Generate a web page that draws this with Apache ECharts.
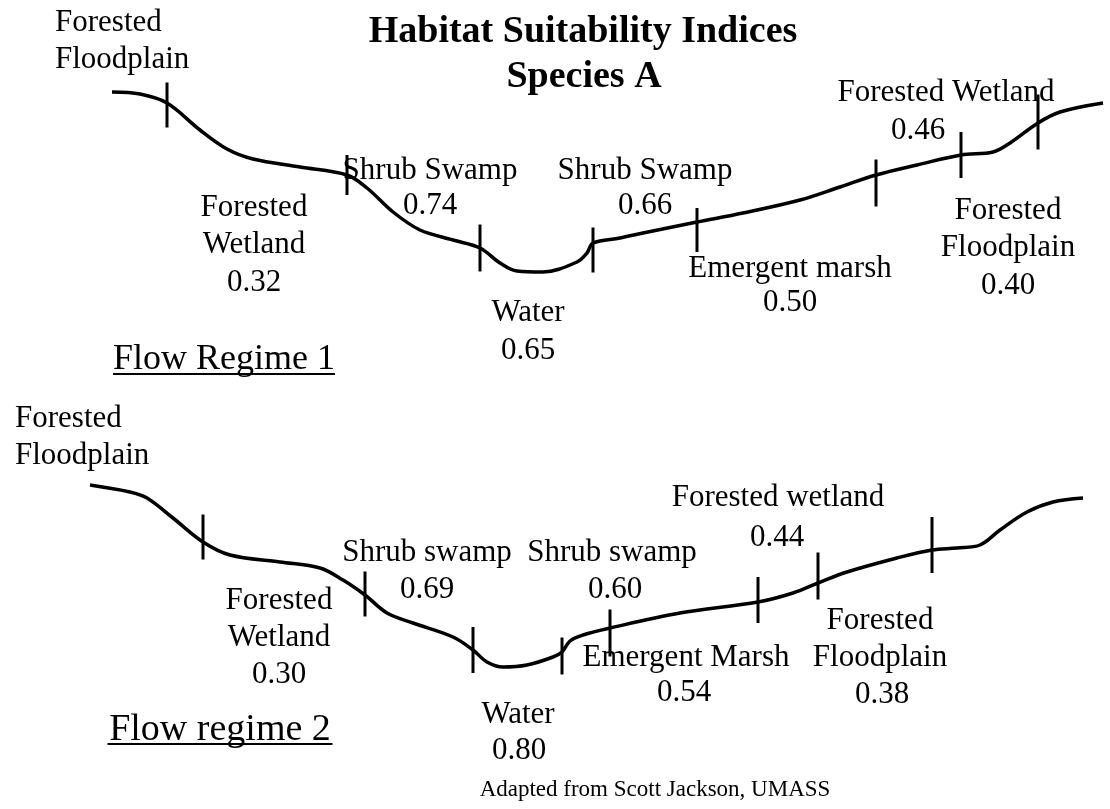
<!DOCTYPE html>
<html>
<head>
<meta charset="utf-8">
<script src="https://cdn.jsdelivr.net/npm/echarts@6/dist/echarts.min.js"></script>
<style>
html,body{margin:0;padding:0;background:#fff;}
#chart{width:1110px;height:809px;}
</style>
</head>
<body>
<div id="chart"></div>
<script>
// ---------- DATA ----------
const titleLines = ['Habitat Suitability Indices', 'Species A'];
const regimeNames = ['Flow Regime 1', 'Flow regime 2'];
const sourceNote = 'Adapted from Scott Jackson, UMASS';

// Flow regime 1: habitat zones (left to right) and their suitability indices
const habitats1 = ['Forested\nFloodplain', 'Forested\nWetland', 'Shrub Swamp', 'Water', 'Shrub Swamp', 'Emergent marsh', 'Forested Wetland', 'Forested\nFloodplain'];
const hsi1 = [null, 0.32, 0.74, 0.65, 0.66, 0.50, 0.46, 0.40];
// cross-section profile (x, depth) of regime 1
const profile1 = [[112,92],[140,94],[167,103],[200,130],[227,149],[253,159],[300,167],[347,175],[367,188],[393,212],[420,230],[453,240],[480,248],[500,263],[517,271],[543,272],[577,262],[587,253],[593,243],[620,238],[643,233],[697,222],[743,213],[800,200],[840,187],[876,175],[917,165],[961,155],[993,152],[1010,143],[1038,123],[1060,112],[1103,103]];
// zone boundaries (x, depth at boundary)
const bounds1 = [[167,105],[347,175],[480,248],[593,250],[697,230],[876,183],[961,155],[1038,122]];

// Flow regime 2
const habitats2 = ['Forested\nFloodplain', 'Forested\nWetland', 'Shrub swamp', 'Water', 'Shrub swamp', 'Emergent Marsh', 'Forested wetland', 'Forested\nFloodplain'];
const hsi2 = [null, 0.30, 0.69, 0.80, 0.60, 0.54, 0.44, 0.38];
const profile2 = [[90,485],[130,492],[147,498],[173,518],[203,542],[230,555],[280,562],[320,568],[343,580],[365,595],[387,613],[413,623],[453,637],[473,650],[487,662],[503,667],[527,665],[553,657],[562,652],[570,641],[583,635],[610,628],[680,613],[758,602],[793,593],[818,583],[847,572],[897,558],[932,550],[957,548],[980,545],[1000,530],[1027,512],[1053,502],[1083,498]];
const bounds2 = [[203,537],[365,594],[473,650],[562,656],[610,633],[758,600],[818,576],[932,545]];

// ---------- LAYOUT (positions / sizes) ----------
const boundLen1 = [45,40,47,45,44,47,46,55];
const boundLen2 = [45,45,46,37,47,46,47,56];
const namePos1 = [[55,38,'left'],[254,223],[430,168],[528,310],[645,168],[790,266],[946,90],[1008,226]];
const valPos1  = [null,[254,280],[430,203],[528,348],[645,203],[790,300],[918,128],[1008,283]];
const namePos2 = [[15,434,'left'],[279,616],[427,550],[518,712],[612,550],[686,655],[778,495],[880,636]];
const valPos2  = [null,[279,672],[427,587],[519,748],[615,587],[684,690],[777,535],[882,692]];
const titlePos = [[583,29],[584,74]];
const regimePos = [[224,357,222,36],[220,727,225,38]];
const notePos = [655,787];

const SERIF = '"Liberation Serif","Times New Roman",serif';

function textPoints(names, vals, npos, vpos) {
  const out = [];
  names.forEach((n, i) => {
    const p = npos[i];
    out.push({value: [p[0], p[1]], label: {formatter: n, align: p[2] || 'center'}});
    if (vals[i] != null && vpos[i]) {
      const q = vpos[i];
      out.push({value: [q[0], q[1]], label: {formatter: vals[i].toFixed(2), align: 'center'}});
    }
  });
  return out;
}

const labelData = textPoints(habitats1, hsi1, namePos1, valPos1)
  .concat(textPoints(habitats2, hsi2, namePos2, valPos2));

const titleData = titleLines.map((t, i) => ({value: titlePos[i], label: {formatter: t}}));
const regimeData = regimeNames.map((t, i) => ({value: [regimePos[i][0], regimePos[i][1]], label: {formatter: t, fontSize: regimePos[i][3]}}));
const underlineData = regimePos.map(p => ({value: [p[0], p[1] + 17], symbolSize: [p[2], 2]}));
const boundData = bounds1.map((b, i) => ({value: b, symbolSize: [3, boundLen1[i]]}))
  .concat(bounds2.map((b, i) => ({value: b, symbolSize: [3, boundLen2[i]]})));

const chart = echarts.init(document.getElementById('chart'), null, {renderer: 'canvas'});
const baseLabel = {show: true, position: 'inside', color: '#000', opacity: 1, fontFamily: SERIF, verticalAlign: 'middle', lineHeight: 37, offset: [0, 3]};
const solid = {color: '#000', opacity: 1};

function textSeries(data, extra) {
  return {type: 'scatter', data: data, symbolSize: 0, itemStyle: solid,
          emphasis: {disabled: true}, label: Object.assign({}, baseLabel, extra)};
}

chart.setOption({
  backgroundColor: '#fff',
  animation: false,
  grid: {left: 0, right: 0, top: 0, bottom: 0},
  xAxis: {type: 'value', min: 0, max: 1110, show: false},
  yAxis: {type: 'value', min: 0, max: 809, inverse: true, show: false},
  series: [
    {type: 'line', data: profile1, smooth: 0.35, symbol: 'none', lineStyle: {color: '#000', width: 3.5, opacity: 1}},
    {type: 'line', data: profile2, smooth: 0.35, symbol: 'none', lineStyle: {color: '#000', width: 3.5, opacity: 1}},
    {type: 'scatter', data: boundData, symbol: 'rect', itemStyle: solid, emphasis: {disabled: true}},
    {type: 'scatter', data: underlineData, symbol: 'rect', itemStyle: solid, emphasis: {disabled: true}},
    textSeries(labelData, {fontSize: 31}),
    textSeries(titleData, {fontSize: 38, fontWeight: 'bold', align: 'center'}),
    textSeries(regimeData, {fontSize: 36, align: 'center'}),
    textSeries([{value: notePos, label: {formatter: sourceNote}}], {fontSize: 23, align: 'center'})
  ]
});
</script>
</body>
</html>
